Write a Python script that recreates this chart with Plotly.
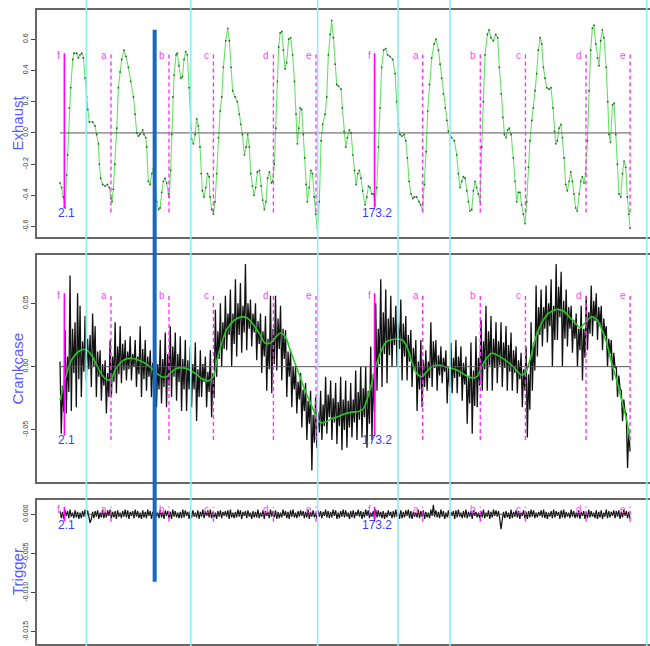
import numpy as np
import plotly.graph_objects as go

# ---------------- data ----------------
exhaust_t = [-0.3, 0.6, 1.5, 2.1, 2.5, 3.4, 3.9, 4.7, 5.6, 6.7, 7.4, 8.9, 9.8, 10.7, 11.7, 12.6, 13.5, 14.4, 15.0, 15.9,
             17.7, 19.0, 19.9, 20.9, 21.4, 22.1, 23.2, 24.5, 25.8, 26.9, 27.8, 28.4, 29.1, 30.0, 31.0, 31.9, 32.8, 33.7,
             35.0, 36.1, 37.4, 38.7, 40.2, 41.1, 42.0, 42.9, 43.8, 45.3, 46.0, 47.0, 47.5, 48.4, 49.4, 50.3, 51.2, 52.1,
             53.0, 54.0, 54.9, 55.8, 56.7, 57.6, 58.5, 59.5, 60.0, 60.7, 61.3, 61.9, 62.6, 63.7, 64.4, 65.3, 66.3, 67.2,
             68.1, 69.0, 69.9, 70.9, 71.8, 72.3, 73.2, 74.2, 75.1, 76.0, 76.9, 77.5, 78.2, 79.1, 80.1, 81.0, 81.9, 82.4,
             83.4, 84.3, 85.2, 86.1, 87.0, 88.0, 88.9, 89.8, 91.1, 92.2, 93.1, 94.0, 94.9, 96.2, 97.5, 98.6, 99.4, 100.3,
             101.4, 102.3, 103.2, 104.1, 104.9, 105.8, 106.7, 107.6, 108.5, 109.7, 110.6, 111.5, 112.4, 113.3, 114.2,
             115.2, 116.3, 117.0, 117.9, 118.8, 119.6, 120.3, 121.1, 122.0, 122.9, 123.8, 124.7, 125.8, 126.9, 128.0,
             129.0, 129.9, 130.6, 131.4, 132.1, 133.0, 133.9, 134.7, 135.4, 136.1, 137.1, 138.0, 138.9, 139.8, 140.7,
             141.6, 142.7, 143.7, 144.6,
             145.9, 146.8, 147.7, 148.6, 149.5, 150.5, 151.4, 152.3, 153.2, 154.7, 155.4, 156.3, 157.3, 158.2, 159.3,
             160.2, 161.1, 162.1, 163.0, 163.9, 164.8, 165.7, 166.6, 167.9, 168.9, 169.8, 170.7, 171.6, 172.5, 173.4,
             174.4, 175.3, 176.2, 177.1, 178.2, 179.3, 180.4, 181.7, 183.2, 184.5, 185.4, 186.3, 187.2, 188.2, 189.4,
             190.4, 191.3, 192.2, 193.3, 194.2, 195.1, 196.4, 197.7, 198.6, 199.7, 200.7, 201.6, 202.5, 203.4, 204.7,
             206.0, 207.1, 208.4, 209.3, 210.2, 211.1, 212.1, 213.0, 213.9, 214.8, 215.7, 217.2, 218.5, 219.4, 220.3,
             221.3, 222.2, 223.1, 224.0, 224.9, 225.8, 226.8, 227.7, 228.6, 229.5, 230.4, 231.4, 232.3, 233.2, 234.1,
             235.4, 236.3, 237.4, 238.7, 240.0, 241.1, 242.0, 243.0, 243.9, 244.8, 245.7, 246.6, 247.5, 248.5, 249.7,
             250.7, 251.6, 252.5, 253.4, 254.3, 255.3, 256.2, 257.1, 258.0, 258.9, 259.9, 260.8, 261.7, 262.6, 263.5,
             264.5, 265.4, 266.3, 267.2, 268.1, 269.4, 270.5, 271.6, 272.4, 273.1, 274.0, 274.9, 276.0, 276.8, 277.7,
             278.6, 279.5, 280.5, 281.4, 282.3, 283.2, 284.1, 285.0, 286.0, 286.9, 287.8, 288.7, 289.6, 290.6, 291.5,
             292.4, 293.3, 294.2, 295.2, 296.1, 297.0, 297.9, 298.8, 299.7, 300.9, 301.8, 302.5, 303.3, 304.4, 305.3,
             306.2, 307.1, 308.0, 309.0, 309.9, 310.8, 311.7, 312.6, 313.5, 314.1]
exhaust_v = [-0.32, -0.35, -0.41, -0.47, -0.48, -0.27, -0.14, 0.16, 0.29, 0.47, 0.51, 0.51, 0.48, 0.50, 0.51, 0.48, 0.35, 0.23, 0.15, 0.07,
             0.07, 0.045, -0.01, -0.07, -0.20, -0.29, -0.33, -0.34, -0.33, -0.35, -0.42, -0.44, -0.36, -0.20, 0.03, 0.29, 0.39, 0.47,
             0.53, 0.49, 0.42, 0.33, 0.23, 0.12, 0.0, -0.02, -0.01, 0.02, -0.01, -0.03, -0.09, -0.31, -0.33, -0.26, -0.23, -0.31,
             -0.44, -0.49, -0.48, -0.38, -0.31, -0.29, -0.32, -0.39, -0.41, -0.24, -0.01, 0.23, 0.37, 0.50, 0.51, 0.43, 0.35, 0.36,
             0.47, 0.52, 0.50, 0.29, 0.03, -0.04, -0.07, -0.01, 0.09, 0.045, -0.09, -0.26, -0.37, -0.41, -0.35, -0.26, -0.28, -0.41,
             -0.49, -0.52, -0.44, -0.26, -0.03, 0.14, 0.23, 0.42, 0.59, 0.67, 0.59, 0.42, 0.27, 0.23, 0.20, 0.12, 0.055, -0.01,
             -0.14, -0.09, -0.01, -0.09, -0.26, -0.34, -0.40, -0.35, -0.25, -0.24, -0.34, -0.43, -0.49, -0.44, -0.29,
             -0.25, -0.32, -0.31, -0.20, 0.03, 0.33, 0.55, 0.64, 0.65, 0.53, 0.41, 0.45, 0.60, 0.61, 0.50,
             0.33, 0.12, -0.07, 0.03, 0.16, 0.15, -0.01, -0.16, -0.33, -0.44, -0.35, -0.24, -0.26, -0.41, -0.52,
             -0.61, -0.44, -0.05, 0.055,
             0.12, 0.23, 0.50, 0.63, 0.72, 0.61, 0.44, 0.31, 0.30, 0.28, 0.16, 0.01, -0.09, -0.03, 0.02,
             0.0, -0.14, -0.24, -0.33, -0.26, -0.24, -0.29, -0.37, -0.46, -0.41, -0.34, -0.35, -0.39, -0.39, -0.46,
             -0.35, -0.09, 0.16, 0.42, 0.53, 0.54, 0.50, 0.49, 0.47, 0.38, 0.20, 0.055, -0.01, -0.02, -0.01,
             -0.05, -0.16, -0.31, -0.39, -0.42, -0.41, -0.41, -0.44, -0.46, -0.50, -0.33, -0.12, 0.14, 0.31, 0.48,
             0.57, 0.60, 0.53, 0.44, 0.35, 0.25, 0.16, 0.08, 0.01, -0.01, -0.03, -0.05, -0.14, -0.26, -0.35,
             -0.31, -0.28, -0.29, -0.37, -0.44, -0.50, -0.49, -0.37, -0.31, -0.35, -0.39, -0.44, -0.09, 0.20, 0.50,
             0.63, 0.66, 0.61, 0.59, 0.63, 0.61, 0.42, 0.25, 0.10, -0.01, -0.03, 0.02, 0.03, -0.01, -0.16,
             -0.31, -0.44, -0.38, -0.38, -0.46, -0.52, -0.58, -0.44, -0.22, -0.05, 0.08, 0.16, 0.27, 0.38, 0.53,
             0.61, 0.57, 0.42, 0.35, 0.29, 0.28, 0.29, 0.16, 0.01, -0.07, -0.05, 0.03, 0.055, -0.03, -0.16,
             -0.33, -0.37, -0.31, -0.25, -0.31, -0.39, -0.48, -0.50, -0.39, -0.31, -0.28, -0.32, -0.26, -0.05, 0.27,
             0.53, 0.67, 0.69, 0.57, 0.48, 0.43, 0.59, 0.66, 0.61, 0.42, 0.20, -0.01, -0.06, 0.18, 0.19,
             -0.01, -0.20, -0.39, -0.41, -0.26, -0.18, -0.22, -0.41, -0.52, -0.61]

crank_t_start = -0.3
crank_t_step = 0.691
crank_v = [
    0.004, -0.053, -0.015, -0.036, 0.029, -0.037, 0.008, -0.02, 0.072, -0.035, 0.03, -0.005, 0.035, -0.032, 0.058, -0.01,
    0.048, -0.024, 0.02, -0.004, 0.04, -0.011, 0.022, -0.002, 0.025, -0.016, 0.042, 0.0, 0.032, -0.024, 0.012, -0.008,
    0.013, -0.027, 0.002, -0.015, 0.005, -0.037, -0.005, -0.024, 0.021, -0.024, 0.008, -0.012, 0.035, -0.021, 0.016, -0.006,
    0.032, -0.013, 0.018, -0.003, 0.021, -0.011, 0.012, -0.002, 0.024, -0.011, 0.01, 0.0, 0.021, -0.016, 0.008, -0.006,
    0.032, -0.024, 0.014, -0.01, 0.021, -0.019, 0.008, -0.008, 0.013, -0.024, 0.003, -0.015, 0.016, -0.032, 0.002, -0.018,
    0.021, -0.029, 0.006, -0.016, 0.027, -0.032, 0.01, -0.015, 0.032, -0.024, 0.016, -0.008, 0.027, -0.027, 0.01, -0.012,
    0.024, -0.035, 0.006, -0.018, 0.021, -0.035, 0.005, -0.018, 0.016, -0.032, 0.002, -0.018, 0.019, -0.043, -0.002, -0.024,
    0.013, -0.024, 0.002, -0.012, 0.008, -0.032, -0.004, -0.02, 0.013, -0.04, -0.005, -0.025, 0.045, -0.008, 0.028, 0.006,
    0.05, 0.0, 0.035, 0.014, 0.056, 0.013, 0.042, 0.025, 0.061, 0.0, 0.042, 0.018, 0.069, 0.008, 0.05, 0.025,
    0.066, 0.011, 0.048, 0.027, 0.081, 0.013, 0.05, 0.03, 0.053, 0.016, 0.042, 0.027, 0.05, 0.005, 0.036, 0.018,
    0.042, -0.005, 0.028, 0.008, 0.04, -0.019, 0.022, -0.002, 0.056, -0.021, 0.03, 0.002, 0.056, -0.003, 0.038, 0.014,
    0.048, -0.011, 0.03, 0.006, 0.029, -0.024, 0.012, -0.008, 0.013, -0.032, 0.0, -0.018, 0.0, -0.037, -0.012, -0.026,
    -0.005, -0.048, -0.018, -0.035, -0.013, -0.058, -0.027, -0.045, -0.019, -0.082, -0.038, -0.06, -0.024, -0.064, -0.036, -0.052,
    -0.019, -0.058, -0.03, -0.047, -0.008, -0.053, -0.022, -0.04, -0.011, -0.058, -0.025, -0.044, -0.013, -0.061, -0.028, -0.047,
    -0.008, -0.066, -0.026, -0.05, -0.011, -0.064, -0.027, -0.048, -0.013, -0.056, -0.026, -0.044, -0.003, -0.058, -0.02, -0.042,
    0.0, -0.056, -0.017, -0.04, 0.0, -0.064, -0.019, -0.045, 0.016, -0.058, -0.006, -0.036, 0.05, -0.019, 0.03, 0.002,
    0.069, -0.016, 0.043, 0.01, 0.061, -0.013, 0.038, 0.009, 0.056, 0.0, 0.039, 0.017, 0.048, 0.0, 0.034, 0.014,
    0.053, -0.011, 0.034, 0.008, 0.04, -0.011, 0.025, 0.004, 0.029, -0.016, 0.015, -0.003, 0.021, -0.035, 0.004, -0.018,
    0.021, -0.032, 0.005, -0.016, 0.013, -0.019, 0.004, -0.009, 0.035, -0.016, 0.02, -0.001, 0.021, -0.019, 0.009, -0.007,
    0.016, -0.013, 0.007, -0.004, 0.013, -0.029, 0.0, -0.016, 0.019, -0.021, 0.007, -0.009, 0.021, -0.021, 0.008, -0.008,
    0.016, -0.027, 0.003, -0.014, 0.008, -0.045, -0.008, -0.029, 0.019, -0.053, -0.003, -0.031, 0.024, -0.032, 0.007, -0.015,
    0.037, -0.019, 0.02, -0.002, 0.048, -0.019, 0.028, 0.001, 0.04, -0.019, 0.022, -0.001, 0.035, -0.013, 0.02, 0.001,
    0.035, -0.016, 0.019, -0.001, 0.032, -0.019, 0.017, -0.004, 0.027, -0.019, 0.013, -0.005, 0.016, -0.021, 0.005, -0.01,
    0.011, -0.032, -0.002, -0.019, 0.016, -0.056, -0.006, -0.034, 0.035, -0.019, 0.019, -0.003, 0.064, 0.008, 0.047, 0.025,
    0.061, 0.016, 0.047, 0.03, 0.064, 0.019, 0.05, 0.032, 0.069, 0.0, 0.048, 0.021, 0.081, 0.021, 0.063, 0.039,
    0.075, 0.0, 0.052, 0.022, 0.061, 0.016, 0.047, 0.03, 0.048, 0.011, 0.037, 0.022, 0.042, 0.0, 0.03, 0.013,
    0.048, -0.011, 0.03, 0.007, 0.056, 0.013, 0.043, 0.026, 0.064, 0.024, 0.052, 0.036, 0.058, 0.021, 0.047, 0.032,
    0.048, 0.013, 0.038, 0.024, 0.032, 0.0, 0.022, 0.01, 0.021, -0.011, 0.011, -0.001, 0.0, -0.024, -0.007, -0.017,
    -0.019, -0.043, -0.026, -0.036, -0.037, -0.08, -0.05, -0.067]

crank_smooth_t = [-0.3, 1.5, 3.4, 5.2, 8.0, 11.7, 14.1, 16.3, 19.0, 21.8, 24.5, 26.4, 28.2, 30.0, 32.8, 35.6, 39.2, 42.9,
                  46.6, 50.3, 53.0, 55.8, 58.5, 61.3, 64.1, 66.8, 70.5, 74.2, 77.8, 81.5, 84.3, 86.1, 88.9, 91.6, 95.3,
                  99.0, 102.7, 106.3, 110.0, 112.8, 115.5, 118.3, 121.1, 123.8, 126.6, 129.3, 132.1, 134.8, 137.6, 140.4,
                  143.1, 145.9, 149.5, 153.2, 156.9, 160.6, 164.3, 167.0, 168.9, 171.6, 174.4, 177.1, 179.9, 182.6,
                  188.2, 190.9, 193.7, 196.4, 199.2, 201.9, 204.7, 208.4, 212.1, 215.7, 219.4, 223.1, 226.8, 229.5,
                  232.3, 235.0, 237.8, 240.6, 245.1, 249.7, 254.3, 256.2, 258.9, 261.7, 265.4, 269.1, 273.6, 277.3,
                  281.0, 284.7, 286.5, 289.3, 293.0, 295.7, 298.5, 301.2, 304.0, 306.7, 309.5, 312.3, 314.1]
crank_smooth_v = [-0.0266, -0.016, -0.0053, 0.0027, 0.0093, 0.0133, 0.0133, 0.0106, 0.004, -0.004, -0.0093, -0.0106,
                  -0.0093, -0.0027, 0.0027, 0.0059, 0.0066, 0.0053, 0.0027, -0.0013, -0.0053, -0.008, -0.008, -0.004,
                  -0.0013, -0.0008, -0.0021, -0.0053, -0.0093, -0.0112, -0.008, 0.004, 0.0186, 0.0293, 0.0359, 0.0391,
                  0.0386, 0.0332, 0.0253, 0.0186, 0.0186, 0.0226, 0.0266, 0.024, 0.0133, 0.0027, -0.008, -0.0186,
                  -0.0279, -0.0372, -0.0439, -0.0439, -0.0412, -0.0394, -0.0372, -0.0359, -0.0354, -0.0332, -0.0266,
                  -0.0133, 0.0027, 0.0133, 0.0199, 0.0213, 0.0213, 0.016, 0.004, -0.0053, -0.008, -0.004, 0.0, 0.0013,
                  0.0, -0.0013, -0.0032, -0.0066, -0.0088, -0.008, 0.0, 0.0066, 0.0106, 0.0093, 0.0053, 0.0, -0.0066,
                  -0.0053, 0.0053, 0.0213, 0.0346, 0.042, 0.0452, 0.0439, 0.0386, 0.0332, 0.0306, 0.0346, 0.0394,
                  0.0372, 0.0293, 0.0186, 0.0027, -0.0106, -0.0266, -0.0426, -0.0585]

# Trigger signal, in units of 1e-4
trigger_t_start = -0.3
trigger_t_step = 0.691
trigger_unit = 1e-4
trigger_v = [
    4, -5, 3, -6, 5, -2, 4, -5, 6, -3, 2, -5,
    5, -4, 3, -6, 2, -5, 4, -3, 6, -4, 5, -2,
    -11, -6, 3, -5, 4, -3, 5, -6, 2, -4, 6, -5,
    3, -4, 5, -2, 6, -5, 3, -4, 4, -6, 5, -3,
    2, -5, 4, -3, 6, -4, 5, -6, 3, -2, 4, -5,
    6, -3, 4, -5, 2, -6, 5, -4, 3, -5, 6, -2,
    4, -6, 3, -4, 5, -3, 2, -5, 6, -4, 3, -6,
    5, -2, 4, -5, 3, -6, 6, -3, 4, -4, 2, -5,
    3, -5, 6, -4, 5, -2, 3, -6, 4, -5, 5, -3,
    2, -4, 5, -6, 3, -3, 6, -5, 4, -2, 5, -4,
    6, -5, 3, -4, 2, -6, 4, -3, 5, -5, 3, -2,
    4, -3, 5, -6, 6, -4, 2, -5, 3, -4, 6, -3,
    5, -6, 3, -2, 4, -5, 5, -3, 2, -6, 4, -4,
    3, -4, 6, -5, 2, -3, 5, -6, 4, -2, 3, -5,
    6, -3, 4, -4, 5, -6, 3, -5, 2, -4, 6, -2,
    4, -5, 3, -6, 5, -3, 6, -4, 2, -5, 4, -3,
    5, -2, 4, -5, 3, -4, 6, -6, 3, -3, 5, -4,
    2, -6, 5, -3, 4, -5, 3, -2, 6, -4, 4, -5,
    3, -4, 6, -2, 5, -6, 2, -5, 4, -3, 6, -4,
    5, -3, 2, -6, 4, -4, 5, -5, 3, -2, 6, -3,
    4, -6, 3, -4, 6, -2, 5, -5, 2, -3, 4, -6,
    6, -4, 5, -3, 3, -5, 4, -6, 2, -4, 5, -2,
    3, -5, 4, -4, 6, -3, 2, -6, 5, -5, 3, -4,
    5, -2, 6, -5, 4, -6, 3, -3, 2, -4, 6, -5,
    4, -3, 5, -6, 3, -4, 2, -5, 6, -2, 12, -3,
    5, -4, 3, -5, 6, -3, 4, -6, 2, -4, 5, -5,
    3, -2, 4, -6, 5, -4, 6, -3, 2, -5, 4, -4,
    6, -5, 3, -3, 4, -6, 5, -2, 3, -4, 2, -5,
    4, -4, 6, -5, 2, -3, 5, -6, 3, -4, 6, -2,
    5, -3, 4, -6, -19, -7, 3, -5, 4, -4, 2, -6,
    6, -5, 3, -3, 5, -4, 4, -6, 2, -2, 5, -5,
    3, -6, 4, -4, 6, -3, 5, -5, 2, -4, 3, -2,
    5, -4, 6, -5, 3, -6, 2, -3, 4, -5, 6, -4,
    4, -2, 3, -6, 5, -4, 6, -5, 3, -3, 2, -5,
    6, -3, 4, -5, 2, -4, 5, -6, 3, -2, 4, -6,
    3, -5, 6, -4, 4, -3, 2, -5, 5, -6, 3, -4,
    5, -6, 2, -3, 6, -5, 4, -4, 3, -2, 5, -5,
    4, -3, 5, -6, 3, -4, 6, -2, 4, -5, 3, -6]

event_labels = ["f", "a", "b", "c", "d", "e", "f", "a", "b", "c", "d", "e"]
event_t = [2.1, 27.8, 59.8, 84.3, 117.4, 140.9, 173.2, 199.7, 231.5, 256.4, 289.8, 314.1]
cycle_labels = ["2.1", "173.2"]
cycle_t = [2.1, 173.2]
cyan_t = [14.2, 71.8, 141.8, 186.1, 214.8, 323.3]
cursor_t = 51.9

panel_names = ["Exhaust", "Crankcase", "Trigger"]
panel_tickvals = [[0.6, 0.4, 0.2, 0.0, -0.2, -0.4, -0.6], [0.05, 0.0, -0.05], [0.0, -0.005, -0.010, -0.015]]
panel_ticktext = [["0.6", "0.4", "0.2", "0.0", "-0.2", "-0.4", "-0.6"], ["0.05", "0.00", "-0.05"],
                  ["0.000", "-0.005", "-0.010", "-0.015"]]
panel_ranges = [[-0.666, 0.787], [-0.0911, 0.0882], [-0.01654, 0.00182]]
panel_domains = [[0.642, 1.0], [0.2555, 0.6136], [0.0, 0.2271]]
event_half = [0.51, 0.058, 0.00095]
cursor_top_val = 0.66      # in Exhaust units
cursor_bottom_val = -0.0086  # in Trigger units

x_range = [-13.0, 325.1]

# ---------------- figure ----------------
crank_t = crank_t_start + crank_t_step * np.arange(len(crank_v))
trigger_t = trigger_t_start + trigger_t_step * np.arange(len(trigger_v))
trigger_y = np.array(trigger_v) * trigger_unit

fig = go.Figure()
AX = ["x", "x2", "x3"]
AY = ["y", "y2", "y3"]
FONT = "Liberation Sans, Arial, sans-serif"

# Exhaust
fig.add_trace(go.Scatter(x=exhaust_t, y=exhaust_v, xaxis="x", yaxis="y", mode="lines+markers",
                         line=dict(color="#66e266", width=1.1),
                         marker=dict(color="rgba(20,40,20,0.75)", size=1.8), showlegend=False))
# Crankcase
fig.add_trace(go.Scatter(x=crank_t, y=crank_v, xaxis="x2", yaxis="y2", mode="lines",
                         line=dict(color="#111111", width=1.3), showlegend=False))
fig.add_trace(go.Scatter(x=crank_smooth_t, y=crank_smooth_v, xaxis="x2", yaxis="y2", mode="lines",
                         line=dict(color="#22cc22", width=1.6, shape="spline"), showlegend=False))
# Trigger
fig.add_trace(go.Scatter(x=trigger_t, y=trigger_y, xaxis="x3", yaxis="y3", mode="lines",
                         line=dict(color="#111111", width=1.2), showlegend=False))

annotations = []
letter_shift = [-2, -2, -3]
cycle_shift = [0, 0, -3]
for i in range(3):
    xa, ya = AX[i], AY[i]
    # zero line over data span
    fig.add_trace(go.Scatter(x=[exhaust_t[0], exhaust_t[-1]], y=[0, 0], xaxis=xa, yaxis=ya, mode="lines",
                             line=dict(color="#555555", width=1), showlegend=False))
    h = event_half[i]
    for lab, t in zip(event_labels, event_t):
        solid = lab == "f"
        fig.add_trace(go.Scatter(x=[t, t], y=[-h if not solid else -0.94 * h, h], xaxis=xa, yaxis=ya,
                                 mode="lines",
                                 line=dict(color="#ff00ff" if solid else "#ff33ff", width=1.6 if solid else 1.4,
                                           dash="solid" if solid else "4px,3px"),
                                 showlegend=False))
        annotations.append(dict(x=t, y=h, xref=xa, yref=ya, text=lab, showarrow=False,
                                xanchor="right", yanchor="middle", xshift=-2, yshift=letter_shift[i],
                                font=dict(color="#ff44ff", size=10, family=FONT)))
    for lab, t in zip(cycle_labels, cycle_t):
        annotations.append(dict(x=t, y=-h, xref=xa, yref=ya, text=lab, showarrow=False,
                                xanchor="center", yanchor="middle", xshift=2, yshift=cycle_shift[i],
                                font=dict(color="#3b3bff", size=12, family=FONT)))
    dom = panel_domains[i]
    annotations.append(dict(x=-0.0326, y=(dom[0] + dom[1]) / 2, xref="paper", yref="paper",
                            text=panel_names[i], textangle=-90, showarrow=False,
                            xanchor="center", yanchor="middle",
                            font=dict(color="#5a5aff", size=15, family=FONT)))


def to_paper(val, i):
    r = panel_ranges[i]
    d = panel_domains[i]
    return d[0] + (val - r[0]) / (r[1] - r[0]) * (d[1] - d[0])


shapes = []
for t in cyan_t:
    shapes.append(dict(type="line", xref="x", yref="paper", x0=t, x1=t, y0=-0.01, y1=1.02,
                       line=dict(color="#88f0f8", width=1.6), layer="above"))
shapes.append(dict(type="line", xref="x", yref="paper", x0=cursor_t, x1=cursor_t,
                   y0=to_paper(cursor_bottom_val, 2), y1=to_paper(cursor_top_val, 0),
                   line=dict(color="#1768c0", width=4), layer="above"))

layout = dict(width=650, height=646, margin=dict(l=37, r=0, t=10, b=2),
              paper_bgcolor="white", plot_bgcolor="white", showlegend=False,
              annotations=annotations, shapes=shapes,
              font=dict(family=FONT, color="#333"))
for i in range(3):
    xk = "xaxis" if i == 0 else f"xaxis{i + 1}"
    yk = "yaxis" if i == 0 else f"yaxis{i + 1}"
    layout[xk] = dict(domain=[0, 1], range=x_range, anchor=AY[i], showgrid=False, zeroline=False,
                      showticklabels=False, ticks="", showline=True, linecolor="#666666", linewidth=1.5,
                      mirror=True)
    layout[yk] = dict(domain=panel_domains[i], range=panel_ranges[i], anchor=AX[i], showgrid=False,
                      zeroline=False, showline=True, linecolor="#666666", linewidth=1.5, mirror=False,
                      tickmode="array", tickvals=panel_tickvals[i], ticktext=panel_ticktext[i],
                      ticks="outside", ticklen=4, tickcolor="#444", tickwidth=1, tickangle=-90,
                      tickfont=dict(size=7, color="#333"), ticklabelstandoff=0)
fig.update_layout(**layout)

fig.write_html("out.html")
